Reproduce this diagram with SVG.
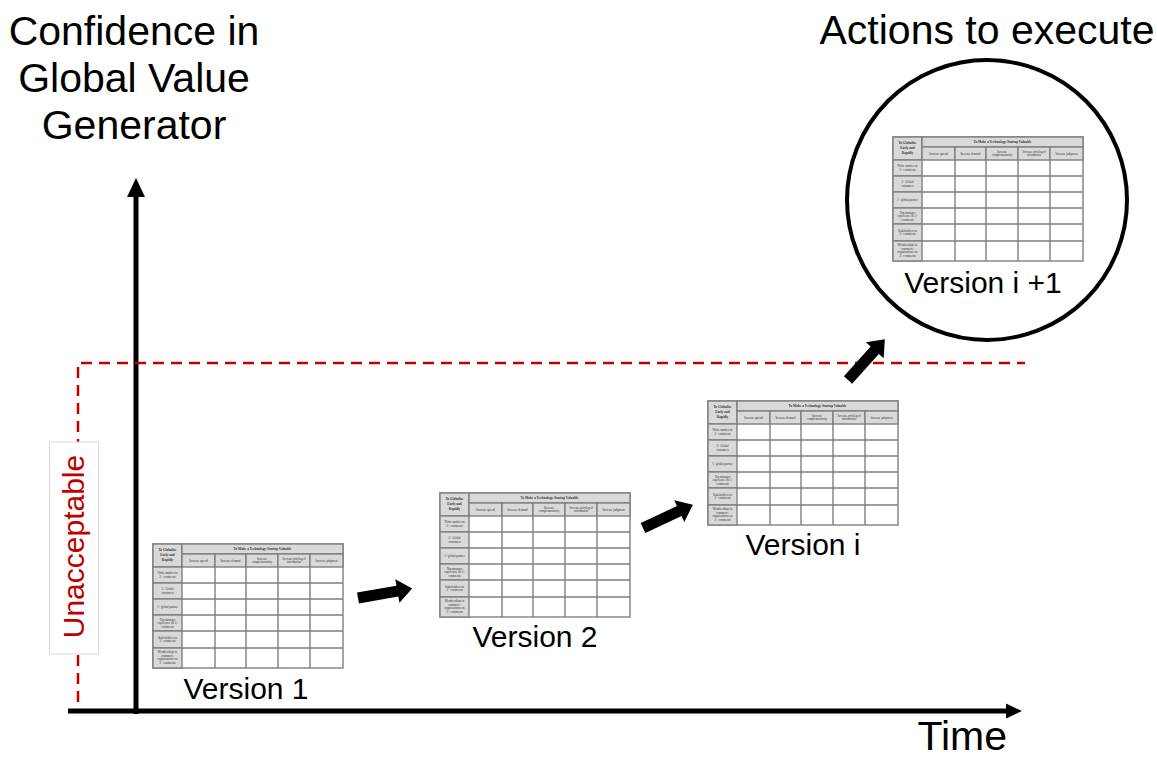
<svg xmlns="http://www.w3.org/2000/svg" xmlns:xlink="http://www.w3.org/1999/xlink" width="1157" height="759" viewBox="0 0 1157 759">
<style>
.lbl{font-family:"Liberation Sans",Arial,sans-serif;fill:#000}
.big{font-size:41px}
.ver{font-size:30px}
.tb{font-family:"Liberation Serif","Times New Roman",serif;fill:#333;font-size:3px;text-anchor:middle}
.tbb{font-weight:bold;font-size:3.4px}
.hd{fill:#d9d9d9;stroke:#7f7f7f;stroke-width:1.4}
.cl{fill:#fff;stroke:#7f7f7f;stroke-width:1.4}
.axis{stroke:#000;stroke-width:5;fill:none}
.red{stroke:#c00000;stroke-width:2.5;fill:none;stroke-dasharray:11 7}
.blk{fill:#000}
</style>
<defs>
<g id="tbl">
<rect class="cl" x="0" y="0" width="190" height="124"/>
<rect class="hd" x="0" y="0" width="29" height="23"/>
<rect class="hd" x="29" y="0" width="161" height="10"/>
<rect class="hd" x="29" y="10" width="33" height="13"/>
<rect class="hd" x="62" y="10" width="31" height="13"/>
<rect class="hd" x="93" y="10" width="32" height="13"/>
<rect class="hd" x="125" y="10" width="32" height="13"/>
<rect class="hd" x="157" y="10" width="33" height="13"/>
<rect class="hd" x="0" y="23" width="29" height="16"/>
<rect class="hd" x="0" y="39" width="29" height="16"/>
<rect class="hd" x="0" y="55" width="29" height="16"/>
<rect class="hd" x="0" y="71" width="29" height="16"/>
<rect class="hd" x="0" y="87" width="29" height="17"/>
<rect class="hd" x="0" y="104" width="29" height="20"/>
<path class="cl" fill="none" d="M29 39H190M29 55H190M29 71H190M29 87H190M29 104H190M62 23V124M93 23V124M125 23V124M157 23V124"/>
<text class="tb tbb" x="14.5" y="7">To Globalize</text>
<text class="tb tbb" x="14.5" y="12">Early and</text>
<text class="tb tbb" x="14.5" y="17">Rapidly</text>
<text class="tb tbb" x="109.5" y="6.2">To Make a Technology Startup Valuable</text>
<text class="tb" x="45.5" y="18">Increase spread</text>
<text class="tb" x="77.5" y="18">Increase demand</text>
<text class="tb" x="109" y="15.5">Increase</text>
<text class="tb" x="109" y="19">complementarity</text>
<text class="tb" x="141" y="15.5">Increase privileged</text>
<text class="tb" x="141" y="19">information</text>
<text class="tb" x="173.5" y="18">Increase judgment</text>
<text class="tb" x="14.5" y="30">Niche market on</text>
<text class="tb" x="14.5" y="33.5">3+ continents</text>
<text class="tb" x="14.5" y="46">3+ Global</text>
<text class="tb" x="14.5" y="49.5">customers</text>
<text class="tb" x="14.5" y="64">1+ global partner</text>
<text class="tb" x="14.5" y="76.5">Top manager</text>
<text class="tb" x="14.5" y="80">experience on 3+</text>
<text class="tb" x="14.5" y="83.5">continents</text>
<text class="tb" x="14.5" y="94.5">Stakeholders on</text>
<text class="tb" x="14.5" y="98">3+ continents</text>
<text class="tb" x="14.5" y="109">Memberships in</text>
<text class="tb" x="14.5" y="112.5">commerce</text>
<text class="tb" x="14.5" y="116">organizations on</text>
<text class="tb" x="14.5" y="119.5">3+ continents</text>
</g>
<path id="barrow" d="M0 -5.5H40V-12L55 0L40 12V5.5H0Z"/>
</defs>

<g id="axes">
<line class="axis" x1="136" y1="714" x2="136" y2="194"/>
<polygon class="blk" points="136,178 127,197 145,197"/>
<line class="axis" x1="68" y1="711" x2="1008" y2="711"/>
<polygon class="blk" points="1022,711 1006,703.5 1006,718.5"/>
</g>

<g id="threshold">
<path class="red" d="M78 702V363H1025"/>
<rect x="49.5" y="442" width="49" height="212" fill="#fff" stroke="#d9d9d9" stroke-width="1"/>
<text class="lbl" transform="translate(83.5,546.5) rotate(-90)" font-size="30" style="fill:#c00000" text-anchor="middle">Unacceptable</text>
</g>

<g id="y-label">
<text class="lbl big" x="134" y="45" text-anchor="middle">Confidence in</text>
<text class="lbl big" x="134" y="92" text-anchor="middle">Global Value</text>
<text class="lbl big" x="134" y="139" text-anchor="middle">Generator</text>
</g>
<g id="x-label">
<text class="lbl big" x="1007" y="750" text-anchor="end">Time</text>
</g>

<g id="version1">
<use xlink:href="#tbl" href="#tbl" transform="translate(153,544)"/>
<text class="lbl ver" x="246" y="699" text-anchor="middle">Version 1</text>
</g>
<g id="version2">
<use xlink:href="#tbl" href="#tbl" transform="translate(440,493)"/>
<text class="lbl ver" x="535" y="647" text-anchor="middle">Version 2</text>
</g>
<g id="versioni">
<use xlink:href="#tbl" href="#tbl" transform="translate(708,401)"/>
<text class="lbl ver" x="803" y="555" text-anchor="middle">Version i</text>
</g>
<g id="versioni1">
<circle cx="987" cy="200" r="140" fill="#fff" stroke="#000" stroke-width="4"/>
<use xlink:href="#tbl" href="#tbl" transform="translate(893,137)"/>
<text class="lbl ver" x="983" y="293" text-anchor="middle">Version i +1</text>
<text class="lbl big" x="987" y="44" text-anchor="middle">Actions to execute</text>
</g>

<g id="connectors">
<use xlink:href="#barrow" href="#barrow" class="blk" transform="translate(358,598) rotate(-10)"/>
<use xlink:href="#barrow" href="#barrow" class="blk" transform="translate(643,528) rotate(-25)"/>
<use xlink:href="#barrow" href="#barrow" class="blk" transform="translate(848,380) rotate(-48)"/>
</g>
</svg>
